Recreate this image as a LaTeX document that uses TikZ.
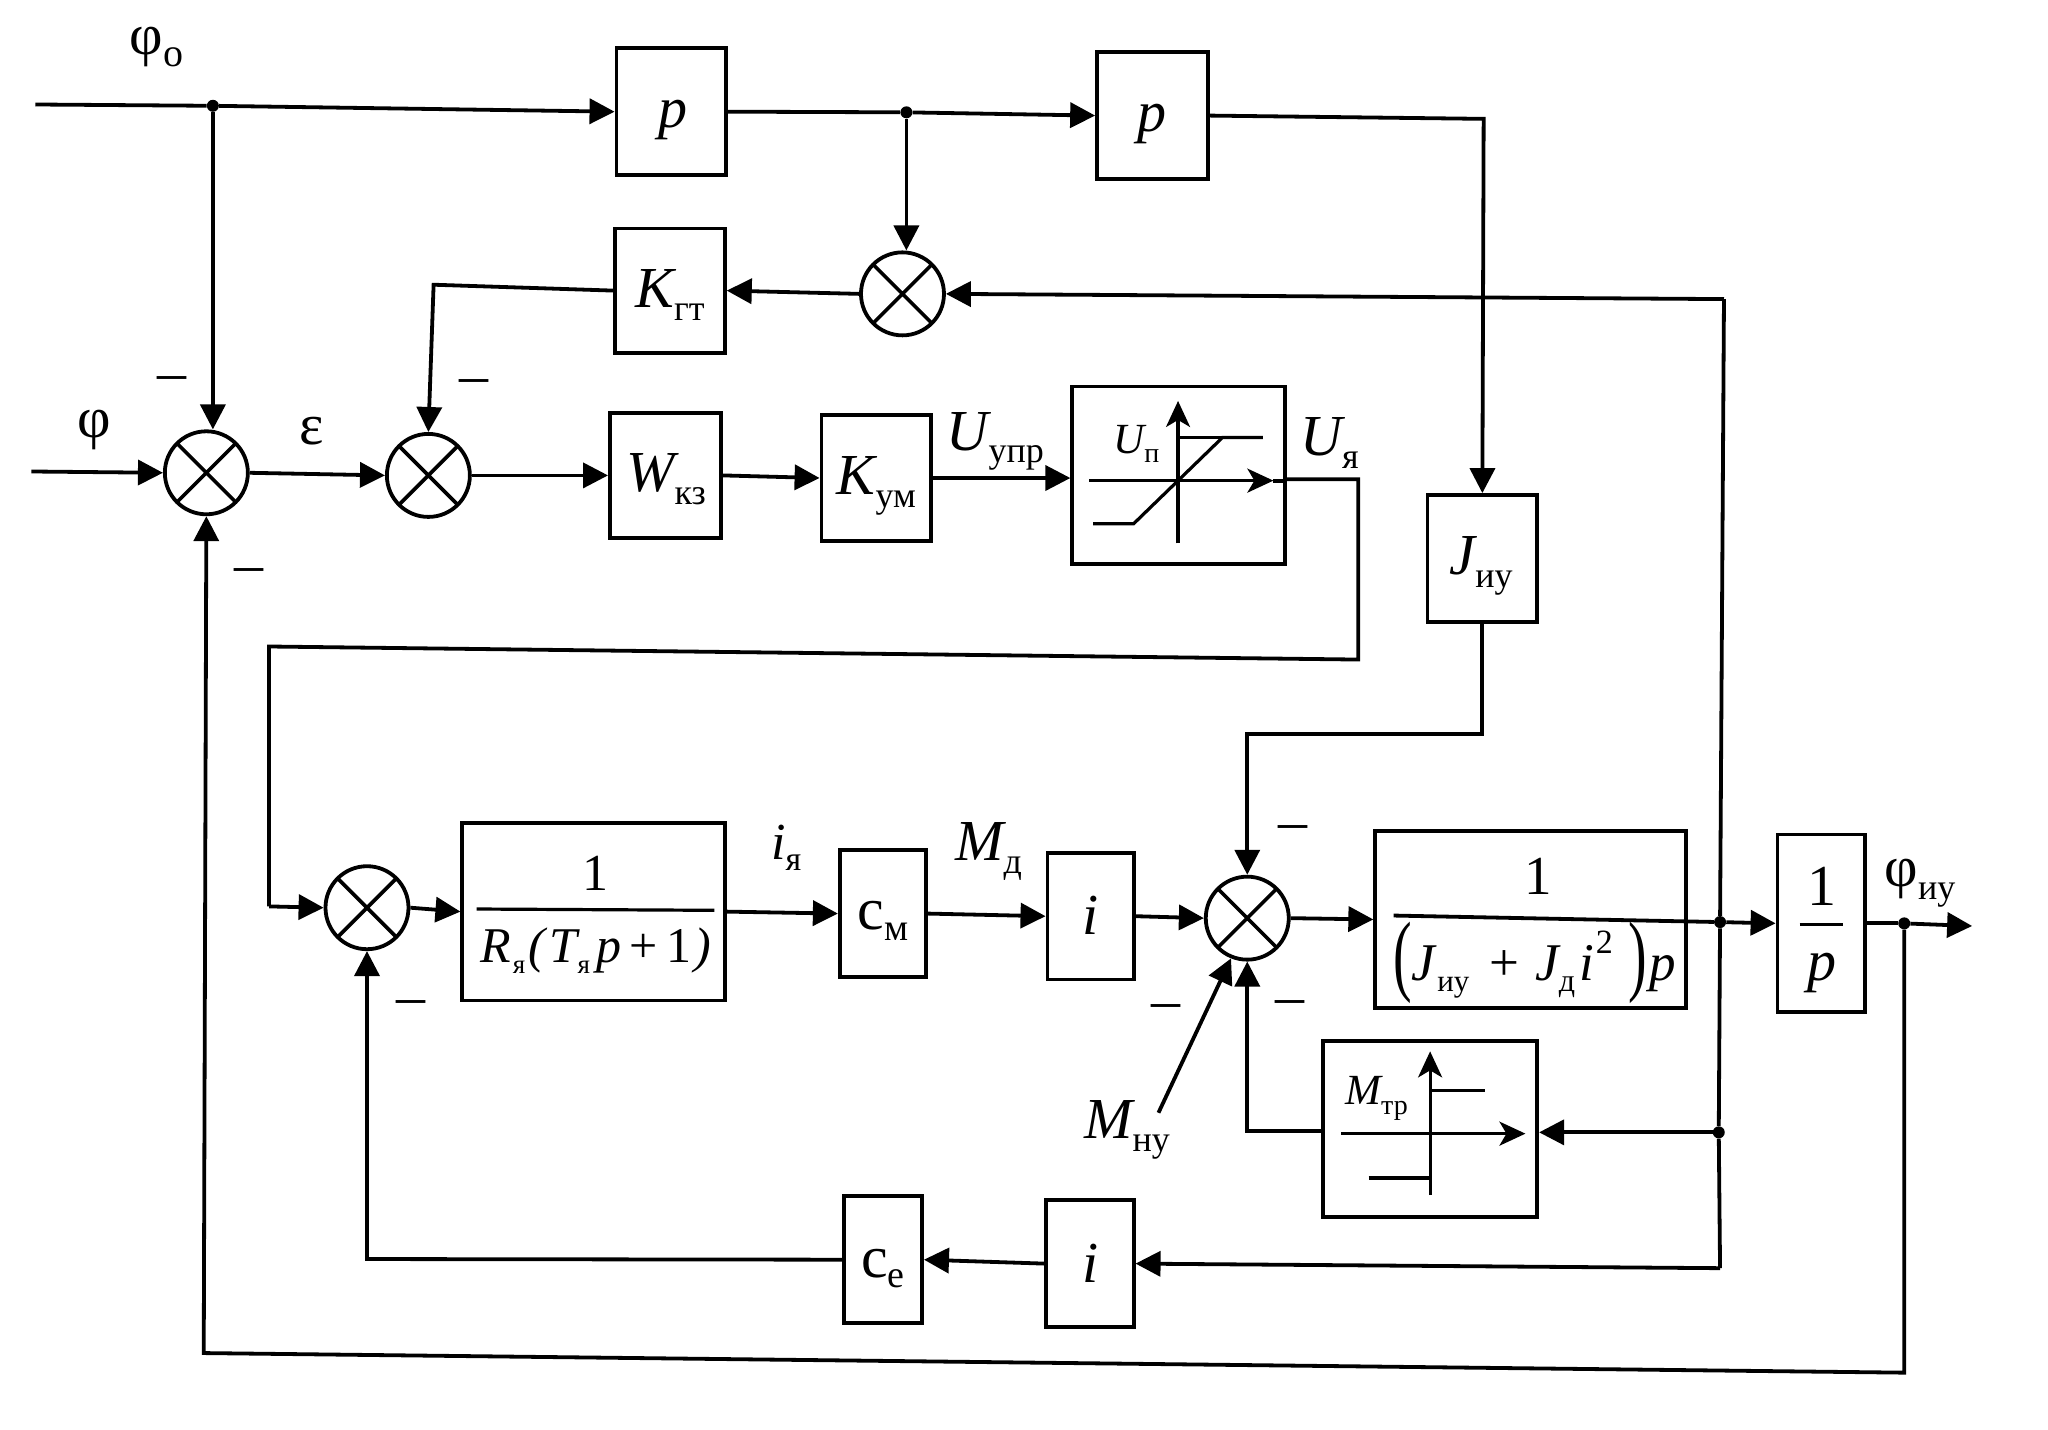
\documentclass[tikz,border=0pt]{standalone}
\usepackage{fontspec}
\setmainfont{Liberation Serif}
\usetikzlibrary{arrows.meta}
\newcommand{\fsz}[1]{\fontsize{#1}{#1}\selectfont}
\newcommand{\sbs}[2][36]{\raisebox{-0.22em}{\fsz{#1}\upshape #2}}
\newcommand{\blk}[6][]{\node[blk,#1,minimum width={(#5-#3)*1.306},minimum height={(#6-#4)*1.306}] (#2) at ({(#3+#5)/2},{(#4+#6)/2}) {};}
\newcommand{\thinparen}[1]{\raisebox{-4pt}{\scalebox{0.62}[1]{\fsz{90}\upshape #1}}}
\tikzset{
  wire/.style={line width=3.8pt,line join=miter},
  arr/.style={wire,-{Triangle[length=25pt,width=25pt]}},
  blk/.style={draw,line width=3.8pt,rectangle,inner sep=0pt},
  sumnode/.style={draw,circle,line width=3.8pt,minimum size=83pt,inner sep=0pt,
    path picture={\draw[line width=3.6pt]
      (path picture bounding box.north west)--(path picture bounding box.south east)
      (path picture bounding box.north east)--(path picture bounding box.south west);}},
  dotn/.style={circle,fill=black,minimum size=12pt,inner sep=0pt},
  lab/.style={inner sep=0pt,font=\fsz{58}},
  flab/.style={inner sep=0pt,font=\fsz{50}},
  minus/.style={inner sep=0pt,font=\fsz{58}},
  inner/.style={line width=3.2pt},
  innerarr/.style={line width=3.2pt,-{Stealth[length=26pt,width=24pt,inset=7pt]}},
}
\begin{document}
\begin{tikzpicture}[x=1.306pt,y=-1.306pt]
\useasboundingbox (0,0) rectangle (1568.1,1094.2);
% blocks
\blk{p1}{472}{37}{556}{134}
\blk{p2}{840}{40}{925}{137}
\blk{kgt}{471}{175}{555}{270}
\blk{wkz}{467}{316}{552}{412}
\blk{kum}{629}{318}{713}{414}
\blk{sat}{821}{296}{984}{432}
\blk{jiu}{1093}{379}{1177}{476}
\blk{rya}{354}{630}{555}{766}
\blk{cm}{643}{651}{709}{748}
\blk{ione}{802}{653}{868}{750}
\blk{bigj}{1053}{636}{1291}{772}
\blk{invp}{1361}{639}{1428}{775}
\blk{fric}{1013}{797}{1177}{932}
\blk{itwo}{801}{919}{868}{1016}
\blk{ce}{646}{916}{706}{1013}
% sums
\node[sumnode] (s1) at (158,362) {};
\node[sumnode] (s2) at (328,364) {};
\node[sumnode] (s3) at (281,695) {};
\node[sumnode] (s4) at (691,225) {};
\node[sumnode] (s5) at (955,703) {};
% junctions
\node[dotn] (j1) at (163,81) {};
\node[dotn] (j2) at (694,86) {};
\node[dotn] (j3) at (1317,706) {};
\node[dotn] (j4) at (1316,867) {};
\node[dotn] (j5) at (1458,707) {};
% free ends and bends
\coordinate (inphi0) at (27,80);
\coordinate (inphi) at (24,361);
\coordinate (outphi) at (1510,709);
\coordinate (b1) at (1136,91);
\coordinate (b2) at (1320,229);
\coordinate (b3) at (1317,971);
\coordinate (b4) at (332,218);
\coordinate (b5) at (1040,367);
\coordinate (b6) at (1040,505);
\coordinate (b7) at (206,495);
\coordinate (b8) at (206,694);
\coordinate (b9) at (1135,562);
\coordinate (b10) at (955,562);
\coordinate (b11) at (955,866);
\coordinate (b12) at (281,964);
\coordinate (b13) at (1458,1051);
\coordinate (b14) at (156,1036);
\coordinate (bar1) at (1067,701);
\coordinate (mnu) at (887,852);
% connectors
\draw[wire] (inphi0) -- (j1);
\draw[arr] (j1) -- (p1.west);
\draw[arr] (j1) -- (j1 |- s1.north);
\draw[wire] (p1.east) -- (j2);
\draw[arr] (j2) -- (p2.west);
\draw[arr] (j2) -- (j2 |- s4.north);
\draw[arr] (p2.east) -- (b1) -- (jiu.north);
\draw[arr] (b2) -- (s4.east);
\draw[arr] (s4.west) -- (kgt.east);
\draw[arr] (kgt.west) -- (b4) -- (s2.north);
\draw[arr] (inphi) -- (s1.west);
\draw[arr] (s1.east) -- (s2.west);
\draw[arr] (s2.east) -- (wkz.west);
\draw[arr] (wkz.east) -- (kum.west);
\draw[arr] (kum.east) -- (kum.east -| sat.west);
\draw[wire] (sat.east |- b5) -- (b5) -- (b6) -- (b7) -- (b8);
\draw[arr] (b8) -- (s3.west);
\draw[arr] (s3.east) -- (rya.west);
\draw[arr] (rya.east) -- (cm.west);
\draw[arr] (cm.east) -- (ione.west);
\draw[arr] (ione.east) -- (s5.west);
\draw[arr] (s5.east) -- (bigj.west);
\draw[wire] (bar1) -- (j3);
\draw[arr] (j3) -- (invp.west);
\draw[wire] (invp.east) -- (j5);
\draw[arr] (j5) -- (outphi);
\draw[wire] (b2) -- (j3) -- (j4) -- (b3);
\draw[arr] (b3) -- (itwo.east);
\draw[arr] (itwo.west) -- (ce.east);
\draw[arr] (ce.west) -- (b12) -- (s3.south);
\draw[arr] (j4) -- (j4 -| fric.east);
\draw[arr] (fric.west |- b11) -- (b11) -- (s5.south);
\draw[arr] (jiu.south) -- (b9) -- (b10) -- (s5.north);
\draw[arr] (mnu) -- (s5.-112);
\draw[arr] (j5) -- (b13) -- (b14) -- (s1.south);
% saturation characteristic
\coordinate (sa1) at (834,368);
\coordinate (sa2) at (975,368);
\coordinate (sa3) at (902,416);
\coordinate (sa4) at (902,307);
\coordinate (sa5) at (837,401);
\coordinate (sa6) at (868,401);
\coordinate (sa7) at (936,335);
\coordinate (sa8) at (967,335);
\coordinate (sa9) at (902,335);
\draw[innerarr] (sa1) -- (sa2);
\draw[wire] (sa2) -- (sat.east |- sa2);
\draw[innerarr] (sa3) -- (sa4);
\draw[inner] (sa5) -- (sa6) -- (sa7) -- (sa8);
\draw[inner] (sa9) -- (sa7);
% friction characteristic
\coordinate (fr1) at (1027,868);
\coordinate (fr2) at (1168,868);
\coordinate (fr3) at (1095,915);
\coordinate (fr4) at (1095,805);
\coordinate (fr5) at (1048,902);
\coordinate (fr6) at (1095,902);
\coordinate (fr7) at (1095,835);
\coordinate (fr8) at (1137,835);
\draw[innerarr] (fr1) -- (fr2);
\draw[innerarr] (fr3) -- (fr4);
\draw[inner] (fr5) -- (fr6) -- (fr7) -- (fr8);
% fraction bars
\coordinate (bar2) at (365,696);
\coordinate (bar3) at (547,697);
\coordinate (bar4) at (1378,708);
\coordinate (bar5) at (1411,708);
\draw[inner] (bar2) -- (bar3);
\draw[inner] (bar4) -- (bar5);
% labels
\node[lab] (tphi0) at (120,36) {φ\sbs[40]{о}};
\node[lab] (tphi) at (72,329) {φ};
\node[lab] (teps) at (239,330) {ε};
\node[lab] (tp1) at (515,92) {\itshape p};
\node[lab] (tp2) at (882,95) {\itshape p};
\node[lab] (tkgt) at (513,226) {\itshape K\sbs{гт}};
\node[lab] (twkz) at (510,367) {\itshape W\sbs{кз}};
\node[lab] (tkum) at (671,372) {\itshape K\sbs{ум}};
\node[lab] (tuupr) at (762,338) {\itshape U\sbs{упр}};
\node[lab] (tuya) at (1018,339) {\itshape U\sbs{я}};
\node[inner sep=0pt,font=\fsz{43}] (tup) at (870,340) {\itshape U\sbs[28]{п}};
\node[lab] (tjiu) at (1134,433) {\itshape J\sbs{иу}};
\node[lab,font=\fsz{52}] (tiya) at (602,649) {\itshape i\sbs[34]{я}};
\node[lab] (tmd) at (757,652) {\itshape M\sbs{д}};
\node[lab,font=\fsz{60}] (tcm) at (676,705) {c\raisebox{0.05em}{\sbs[38]{м}}};
\node[lab,font=\fsz{60}] (tce) at (676,971) {c\raisebox{0.05em}{\sbs[38]{е}}};
\node[lab] (ti1) at (835,701) {\itshape i};
\node[lab] (ti2) at (835,967) {\itshape i};
\node[lab] (tmnu) at (863,865) {\itshape M\sbs{ну}};
\node[inner sep=0pt,font=\fsz{43}] (tmtr) at (1054,841) {\itshape M\sbs[28]{тр}};
\node[lab] (tphiu) at (1470,676) {φ\sbs{иу}};
\node[flab,font=\fsz{52}] (tn1) at (456,669) {1};
\node[flab] (td1) at (456,728) {\itshape R\kern2pt\sbs[27]{я}\kern3pt(\kern5pt T\sbs[27]{я}\kern6pt p\kern8pt\upshape +\kern9pt 1\kern3pt\itshape )};
\node[flab,font=\fsz{55}] (tn2) at (1178,671) {1};
\node[flab,font=\fsz{53}] (td2) at (1175,737) {\thinparen{(}\itshape J\kern2pt\sbs[31]{иу}\kern20pt\upshape +\kern16pt\itshape J\sbs[32]{д}\kern4pt i\kern2pt\raisebox{0.5em}{\fsz{34}\upshape 2}\kern16pt\thinparen{)}\kern2pt p};
\node[lab] (tn3) at (1395,679) {1};
\node[lab] (tpi) at (1395,745) {\itshape p};
\node[minus] (m1) at (132,294) {–};
\node[minus] (m2) at (363,296) {–};
\node[minus] (m3) at (191,441) {–};
\node[minus] (m4) at (990,638) {–};
\node[minus] (m5) at (315,772) {–};
\node[minus] (m6) at (893,775) {–};
\node[minus] (m7) at (988,772) {–};
\end{tikzpicture}
\end{document}
